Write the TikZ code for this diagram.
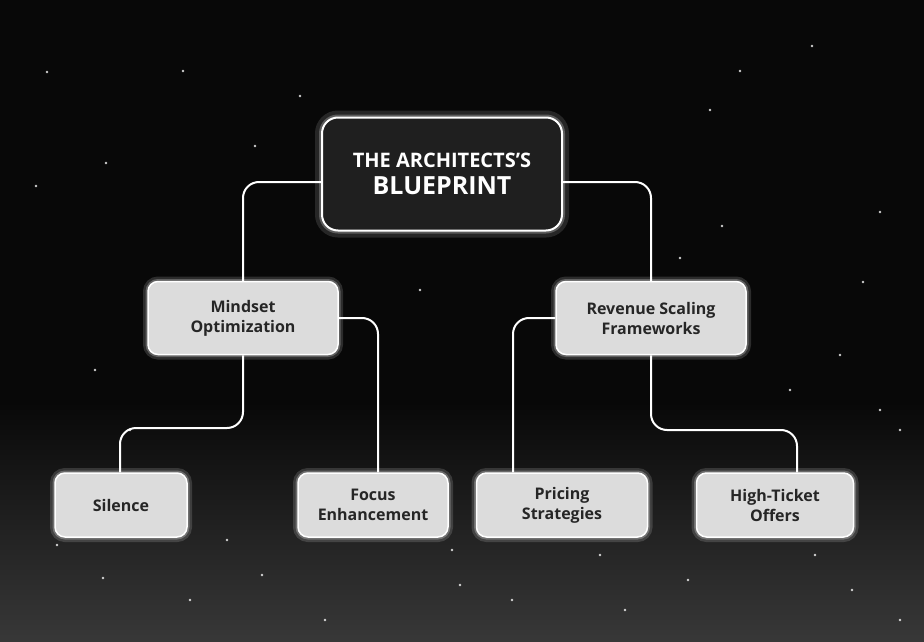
\documentclass[tikz,border=0pt]{standalone}
\usepackage{fontspec}
\setmainfont{Open Sans}
\begin{document}
\begin{tikzpicture}[x=1pt,y=-1pt,
  leaf/.style={draw=white,line width=1.5pt,fill=boxgrey,rounded corners=10pt,text=black!85,
    font=\bfseries\fontsize{16}{20}\selectfont,align=center,inner sep=0pt,
    minimum height=64pt,
    preaction={draw=white,opacity=0.15,line width=10pt},
    preaction={draw=white,opacity=0.25,line width=5pt}},
  mid/.style={leaf,minimum height=73pt,minimum width=190pt},
  root/.style={draw=white,line width=2pt,fill=black!88,rounded corners=16pt,text=white,align=center,
    minimum width=240pt,minimum height=113pt,inner sep=0pt,
    preaction={draw=white,opacity=0.12,line width=14pt},
    preaction={draw=white,opacity=0.25,line width=6pt}},
  link/.style={draw=white!85,line width=2pt,rounded corners=16pt}]
\definecolor{boxgrey}{HTML}{DCDCDC}
\useasboundingbox (0,0) rectangle (924,642);
\shade[top color=black!97,bottom color=black!97] (0,0) rectangle (924,400);
\shade[top color=black!97,bottom color=black!78] (0,400) rectangle (924,642);
\foreach \x/\y in {47/72,183/71,255/146,36/186,106/163,710/110,812/46,740/71,880/212,722/226,863/282,840/355,790/390,880/410,900/430,95/370,130/430,57/545,103/578,227/540,262/575,325/620,452/550,460/585,600/555,625/610,688/580,815/555,852/590,900/620,300/96,420/290,680/258,190/600,512/600}
  \fill[white,opacity=0.8] (\x,\y) circle (1.4pt);
\node[root] (r) at (442,174) {\bfseries\fontsize{20}{24}\selectfont THE ARCHITECTS'S\\[8pt]\bfseries\fontsize{25}{24}\selectfont BLUEPRINT};
\node[mid] (m) at (243,318) {Mindset\\Optimization};
\node[mid] (v) at (651,318) {Revenue Scaling\\Frameworks};
\node[leaf,minimum width=132pt] (s) at (121,505) {Silence};
\node[leaf,minimum width=150pt] (f) at (373,505) {Focus\\Enhancement};
\node[leaf,minimum width=171pt] (p) at (562,505) {Pricing\\Strategies};
\node[leaf,minimum width=157pt] (h) at (775,505) {High-Ticket\\Offers};
\path[link] (r.west |- 0,182) -| (m.north);
\path[link] (r.east |- 0,182) -| (v.north);
\path[link] (m.south) -- (243,428) -| (s.north -| 120,0);
\path[link] (m.east) -| (f.north -| 378,0);
\path[link] (v.west) -| (p.north -| 513,0);
\path[link] (v.south) -- (651,430) -| (h.north -| 797,0);
\end{tikzpicture}
\end{document}
